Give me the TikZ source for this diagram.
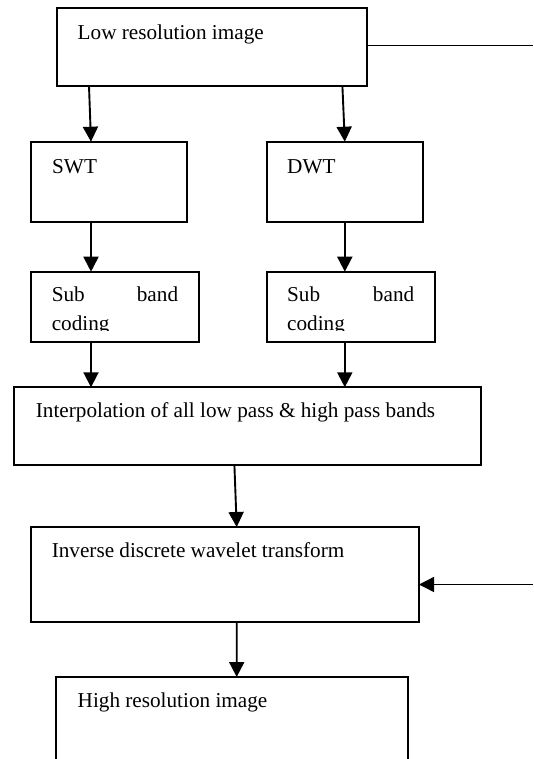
\documentclass[tikz,border=0pt]{standalone}
\usepackage{fontspec}
\setmainfont{Liberation Serif}
\usetikzlibrary{arrows.meta}
\begin{document}
\begin{tikzpicture}[x=1pt,y=-1pt,
  box/.style={draw, line width=2pt, inner sep=0pt, outer sep=0pt, anchor=north west},
  lbl/.style={anchor=base west, inner sep=0pt, font=\fontsize{21.2}{25}\selectfont},
  lblr/.style={lbl, anchor=base east},
  arr/.style={line width=1.9pt, -{Triangle[width=15pt,length=15pt]}},
  thinline/.style={line width=1.4pt}]
\useasboundingbox (0,0) rectangle (533,759);
\clip (0,0) rectangle (533,759);
% boxes
\node[box, minimum width=310pt, minimum height=78pt] (low) at (57,8) {};
\node[box, minimum width=156.2pt, minimum height=80pt] (swt) at (30.6,141.7) {};
\node[box, minimum width=156.3pt, minimum height=80pt] (dwt) at (266.6,141.7) {};
\node[box, minimum width=168.1pt, minimum height=70pt] (sub1) at (30.6,271.7) {};
\node[box, minimum width=168.2pt, minimum height=70pt] (sub2) at (266.6,271.7) {};
\node[box, minimum width=466.4pt, minimum height=77.7pt] (interp) at (14.3,387.3) {};
\node[box, minimum width=388.4pt, minimum height=94.7pt] (idwt) at (30.6,527) {};
\node[box, minimum width=352.3pt, minimum height=100pt] (high) at (56,677) {};
% texts
\node[lbl] (tlow) at (77.5,39.3) {Low resolution image};
\node[lbl] (tswt) at (52,173.3) {SWT};
\node[lbl] (tdwt) at (287,173.3) {DWT};
\node[lbl] (tsuba) at (51.6,301) {Sub};
\node[lblr] (tbanda) at (178.3,301) {band};
\node[lbl] (tsubb) at (287,301) {Sub};
\node[lblr] (tbandb) at (414.4,301) {band};
\begin{scope}
\clip (0,0) rectangle (533,330.5);
\node[lbl] (tcoda) at (51.6,330) {coding};
\node[lbl] (tcodb) at (287,330) {coding};
\end{scope}
\node[lbl] (tinterp) at (35.7,417.3) {Interpolation of all low pass \& high pass bands};
\node[lbl] (tidwt) at (51.6,557.3) {Inverse discrete wavelet transform};
\node[lbl] (thigh) at (77.5,707.3) {High resolution image};
% connectors
\draw[arr] ([xshift=32pt]low.south west) -- ([xshift=60.4pt]swt.north west);
\draw[arr] ([xshift=285.4pt]low.south west) -- ([xshift=78.2pt]dwt.north west);
\draw[arr] ([xshift=60.4pt]swt.south west) -- ([xshift=60.4pt]sub1.north west);
\draw[arr] ([xshift=78.2pt]dwt.south west) -- ([xshift=78.2pt]sub2.north west);
\draw[arr] ([xshift=60.4pt]sub1.south west) -- ([xshift=76.7pt]interp.north west);
\draw[arr] ([xshift=78.2pt]sub2.south west) -- ([xshift=330.5pt]interp.north west);
\draw[arr] ([xshift=220.1pt]interp.south west) -- ([xshift=206.1pt]idwt.north west);
\draw[arr] ([xshift=206.1pt]idwt.south west) -- ([xshift=180.7pt]high.north west);
\coordinate (r1) at (533,45.3);
\coordinate (r2) at (533,584.5);
\draw[thinline] (low.east |- r1) -- (r1);
\draw[arr, line width=1.4pt] (r2) -- (idwt.east |- r2);
\end{tikzpicture}
\end{document}
